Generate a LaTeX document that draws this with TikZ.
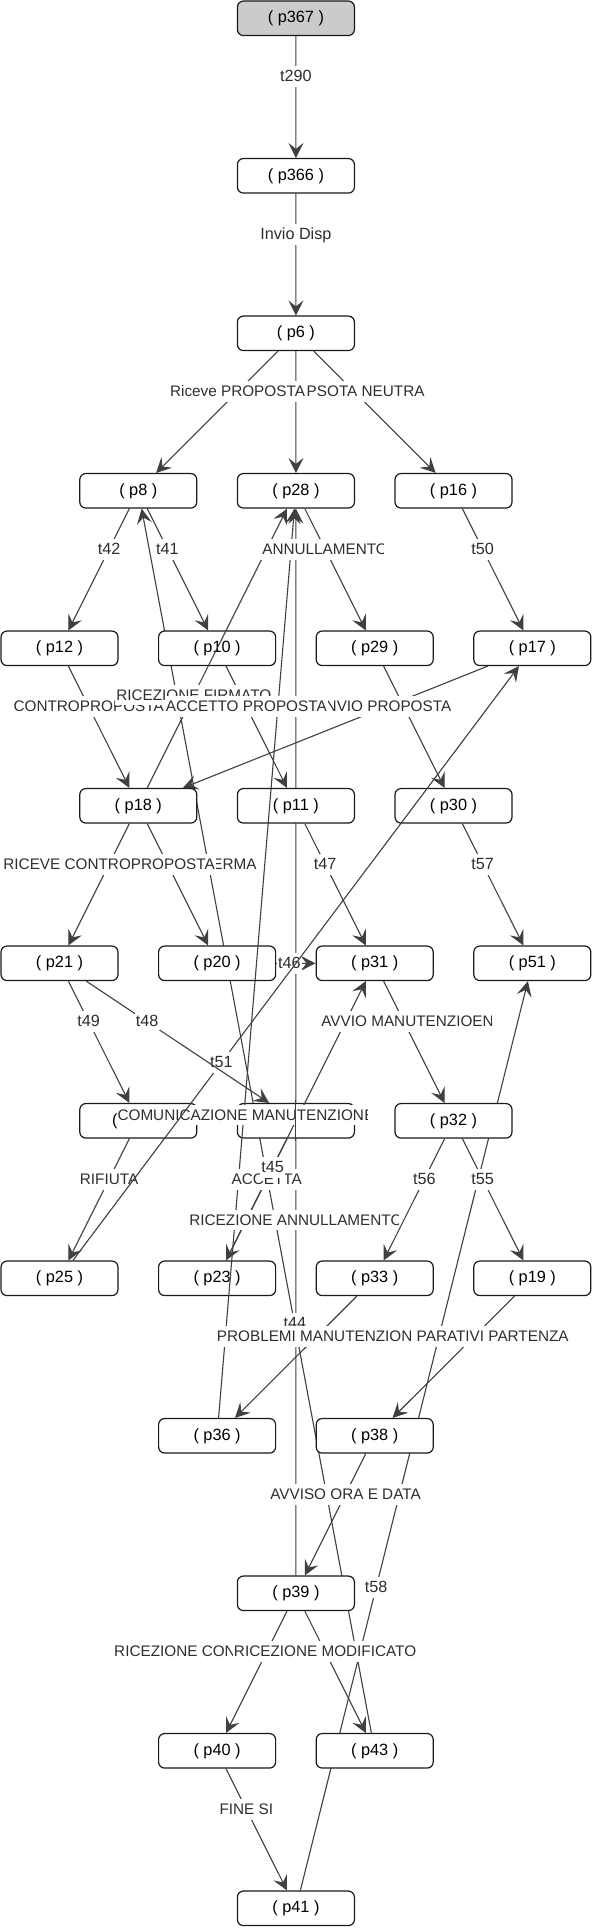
\documentclass[tikz,border=0pt]{standalone}
\usepackage{fontspec}
\setmainfont{Liberation Sans}
\usetikzlibrary{calc,arrows.meta}
\pgfdeclarelayer{bg}
\pgfdeclarelayer{mid}
\pgfdeclarelayer{lab}
\pgfdeclarelayer{top}
\pgfsetlayers{bg,main,mid,lab,top}
\definecolor{edgecol}{HTML}{404040}
\definecolor{labcol}{HTML}{2E2E2E}
\definecolor{boxcol}{HTML}{1A1A1A}
\definecolor{grayfill}{HTML}{CBCBCB}
\tikzset{
  place/.style={draw=boxcol, line width=1.2pt, rounded corners=6pt, fill=white,
    minimum width=117pt, minimum height=34.5pt, inner sep=0pt,
    font=\fontsize{16.3}{16.3}\selectfont, text=black},
  ptext/.style={inner sep=0pt, font=\fontsize{16.3}{16.3}\selectfont, text=black},
  tlab/.style={fill=white, inner xsep=1pt, inner ysep=2pt, text height=13.6pt,
    text depth=3.2pt, font=\fontsize{15.3}{15.3}\selectfont, text=labcol},
  tlabd/.style={tlab, font=\fontsize{16.2}{16.2}\selectfont},
  ln/.style={draw=edgecol, line width=1.1pt},
  lnarr/.style={ln, -{Stealth[length=15pt, width=15pt, inset=6pt]}},
}
\newcommand\mktpt[4]{\coordinate (#1) at ($(#2)!#4!(#3)$);}
\begin{document}
\begin{tikzpicture}[x=1pt,y=-1pt]
\useasboundingbox (0,0) rectangle (593,1928);
% ---------- places ----------
\node[place, fill=grayfill] (p367) at (295.9,18.3) {( p367 )};
\node[place] (p366) at (295.9,175.8) {( p366 )};
\node[place] (p6)   at (295.9,333.3) {( p6 )};
\node[place] (p8)   at (138.3,490.8) {( p8 )};
\node[place] (p28)  at (295.9,490.8) {( p28 )};
\node[place] (p16)  at (453.5,490.8) {( p16 )};
\node[place] (p12)  at (59.5,648.3)  {( p12 )};
\node[place] (p10)  at (217.1,648.3) {( p10 )};
\node[place] (p29)  at (374.7,648.3) {( p29 )};
\node[place] (p17)  at (532.3,648.3) {( p17 )};
\node[place] (p18)  at (138.3,805.8) {( p18 )};
\node[place] (p11)  at (295.9,805.8) {( p11 )};
\node[place] (p30)  at (453.5,805.8) {( p30 )};
\node[place] (p21)  at (59.5,963.3)  {( p21 )};
\node[place] (p20)  at (217.1,963.3) {( p20 )};
\node[place] (p31)  at (374.7,963.3) {( p31 )};
\node[place] (p51)  at (532.3,963.3) {( p51 )};
\node[place] (pA)   at (138.3,1120.8) {};
\node[place] (pB)   at (295.9,1120.8) {};
\node[place] (p32)  at (453.5,1120.8) {( p32 )};
\node[place] (p25)  at (59.5,1278.3)  {( p25 )};
\node[place] (p23)  at (217.1,1278.3) {( p23 )};
\node[place] (p33)  at (374.7,1278.3) {( p33 )};
\node[place] (p19)  at (532.3,1278.3) {( p19 )};
\node[place] (p36)  at (217.1,1435.8) {( p36 )};
\node[place] (p38)  at (374.7,1435.8) {( p38 )};
\node[place] (p39)  at (295.9,1593.3) {( p39 )};
\node[place] (p40)  at (217.1,1750.8) {( p40 )};
\node[place] (p43)  at (374.7,1750.8) {( p43 )};
\node[place] (p41)  at (295.9,1908.3) {( p41 )};
% ---------- transition points ----------
\mktpt{T1}{p367}{p366}{0.3704}
\mktpt{T2}{p366}{p6}{0.3704}
\mktpt{T3}{p6}{p8}{0.3704}
\mktpt{T4}{p6}{p28}{0.3704}
\mktpt{T5}{p6}{p16}{0.3704}
\mktpt{T6}{p8}{p12}{0.3704}
\mktpt{T7}{p8}{p10}{0.3704}
\mktpt{T8}{p28}{p29}{0.3704}
\mktpt{T9}{p16}{p17}{0.3704}
\mktpt{T10}{p12}{p18}{0.3704}
\mktpt{T11}{p10}{p11}{0.3704}
\mktpt{T12}{p29}{p30}{0.3704}
\mktpt{T13}{p17}{p18}{0.3704}
\mktpt{T14}{p18}{p28}{0.3519}
\mktpt{T15}{p18}{p21}{0.3704}
\mktpt{T16}{p18}{p20}{0.3704}
\mktpt{T17}{p11}{p31}{0.3704}
\mktpt{T18}{p30}{p51}{0.3704}
\mktpt{T19}{p20}{p31}{0.4585}
\mktpt{T20}{p21}{pA}{0.3704}
\mktpt{T21}{p21}{pB}{0.3704}
\mktpt{T22}{p31}{p32}{0.3704}
\mktpt{T23}{p25}{p17}{0.3426}
\mktpt{T24}{p36}{p28}{0.3395}
\mktpt{T25}{pA}{p25}{0.3704}
\mktpt{T26}{pB}{p23}{0.3704}
\mktpt{T27}{p32}{p33}{0.3704}
\mktpt{T28}{p32}{p19}{0.3704}
\mktpt{T29}{p23}{p31}{0.3519}
\mktpt{T30}{p39}{p28}{0.3386}
\mktpt{T31}{p33}{p36}{0.3704}
\mktpt{T32}{p19}{p38}{0.3704}
\mktpt{T33}{p43}{p8}{0.3380}
\mktpt{T34}{p38}{p39}{0.3704}
\mktpt{T35}{p41}{p51}{0.3395}
\mktpt{T36}{p39}{p40}{0.3704}
\mktpt{T37}{p39}{p43}{0.3704}
\mktpt{T38}{p40}{p41}{0.3704}
% ---------- labels ----------
\begin{pgfonlayer}{lab}
\node[tlabd] (l1) at (T1) {t290};
\node[tlabd] (l2) at (T2) {Invio Disp};
\node[tlab, anchor=east] (l5) at ($(T5)+(71.5,0)$) {PSOTA NEUTRA};
\node[tlab] (l3) at (T3) {Riceve PROPOSTA};
\node[tlabd] (l6) at (T6) {t42};
\node[tlabd] (l7) at (T7) {t41};
\begin{scope}
\clip ($(T8)+(-70,-15)$) rectangle ($(T8)+(58.1,15)$);
\node[tlab] (l8) at (T8) {ANNULLAMENTO};
\end{scope}
\node[tlabd] (l9) at (T9) {t50};
\node[tlab] (l10) at (T10) {CONTROPROPOSTA};
\node[tlab] (l13) at (T13) {INVIO PROPOSTA};
\node[tlab] (l14) at (T14) {RICEZIONE FIRMATO};
\node[tlab] (l11) at (T11) {ACCETTO PROPOSTA};
\node[tlab, anchor=east] (l16) at ($(T16)+(90.3,0)$) {ERMA};
\node[tlab] (l15) at (T15) {RICEVE CONTROPROPOSTA};
\node[tlabd] (l17) at (T17) {t47};
\node[tlabd] (l18) at (T18) {t57};
\node[tlabd] (l19) at (T19) {t46};
\node[tlabd] (l20) at (T20) {t49};
\node[tlabd] (l21) at (T21) {t48};
\begin{scope}
\clip ($(T22)+(-90,-15)$) rectangle ($(T22)+(87.6,15)$);
\node[tlab, anchor=west] (l22) at ($(T22)+(-83.7,0)$) {AVVIO MANUTENZIOENE};
\end{scope}
\node[tlabd] (l23) at (T23) {t51};
\node[tlab, anchor=west] (l24) at ($(T24)+(-127.5,0)$) {COMUNICAZIONE MANUTENZION};
\begin{scope}
\clip ($(l24.north east)+(-1,0)$) rectangle ($(l24.south east)+(2.6,0)$);
\node[tlab, anchor=base west, inner xsep=0pt] (l24e) at ($(l24.base east)+(-1,0)$) {E};
\end{scope}
\node[ptext] (pAt) at ($(pA)+(-23.4,0)$) {(};
\node[tlab] (l25) at (T25) {RIFIUTA};
\node[tlab] (l26) at (T26) {ACCETTA};
\node[tlabd] (l29) at (T29) {t45};
\node[tlabd] (l27) at (T27) {t56};
\node[tlabd] (l28) at (T28) {t55};
\begin{scope}
\clip ($(T30)+(-110,-15)$) rectangle ($(T30)+(102.1,15)$);
\node[tlab] (l30) at (T30) {RICEZIONE ANNULLAMENTO};
\end{scope}
\node[tlabd] (l33) at ($(T33)+(0,-1.2)$) {t44};
\node[tlab, anchor=west] (l31) at ($(T31)+(-100.6,0)$) {PROBLEMI MANUTENZION};
\begin{scope}
\clip ($(T32)+(-60,-15)$) rectangle ($(T32)+(94.3,15)$);
\node[tlab, anchor=west] (l32) at ($(T32)+(-58.4,0)$) {PARATIVI PARTENZA};
\end{scope}
\node[tlab] (l34) at (T34) {AVVISO ORA E DATA};
\node[tlabd] (l35) at (T35) {t58};
\node[tlab, anchor=west] (l36) at ($(T36)+(-153.7,0)$) {RICEZIONE CON};
\node[tlab] (l37) at (T37) {RICEZIONE MODIFICATO};
\node[tlab] (l38) at (T38) {FINE SI};
\end{pgfonlayer}
% ---------- edges below places ----------
\begin{pgfonlayer}{bg}
\fill[white] (0,0) rectangle (593,1928);
\draw[lnarr] (p367) -- (T1) -- (p366);
\draw[lnarr] (p366) -- (T2) -- (p6);
\draw[lnarr] (p6) -- (T3) -- (p8);
\draw[lnarr] (p6) -- (T4) -- (p28);
\draw[lnarr] (p6) -- (T5) -- (p16);
\draw[lnarr] (p8) -- (T6) -- (p12);
\draw[lnarr] (p8) -- (T7) -- (p10);
\draw[lnarr] (p28) -- (T8) -- (p29);
\draw[lnarr] (p16) -- (T9) -- (p17);
\draw[lnarr] (p12) -- (T10) -- (p18);
\draw[lnarr] (p10) -- (T11) -- (p11);
\draw[lnarr] (p29) -- (T12) -- (p30);
\draw[lnarr] (p17) -- (T13) -- (p18);
\draw[lnarr] (p18) -- (T15) -- (p21);
\draw[lnarr] (p18) -- (T16) -- (p20);
\draw[lnarr] (p11) -- (T17) -- (p31);
\draw[lnarr] (p30) -- (T18) -- (p51);
\draw[ln] (p20) -- (l19);
\draw[lnarr] (l19) -- (p31);
\draw[lnarr] (p21) -- (T20) -- (pA);
\draw[ln] (p21) -- (T21);
\draw[lnarr] (p31) -- (T22) -- (p32);
\draw[lnarr] (pA) -- (T25) -- (p25);
\draw[lnarr] (p32) -- (T27) -- (p33);
\draw[lnarr] (p32) -- (T28) -- (p19);
\draw[lnarr] (p39) -- (T30) -- (p28);
\draw[lnarr] (p33) -- (T31) -- (p36);
\draw[lnarr] (p19) -- (T32) -- (p38);
\draw[lnarr] (p43) -- (T33) -- (p8);
\draw[lnarr] (p38) -- (T34) -- (p39);
\draw[lnarr] (p41) -- (T35) -- (p51);
\draw[lnarr] (p39) -- (T36) -- (p40);
\draw[lnarr] (p39) -- (T37) -- (p43);
\draw[lnarr] (p40) -- (T38) -- (p41);
\end{pgfonlayer}
% ---------- edges over places ----------
\begin{pgfonlayer}{mid}
\draw[lnarr] (p18) -- (T14) -- (p28);
\draw[lnarr] (p36) -- (T24) -- (p28);
\draw[lnarr] (pB) -- (T26) -- (p23);
\draw[lnarr] (p23) -- (T29) -- (p31);
\end{pgfonlayer}
% ---------- edges over labels ----------
\begin{pgfonlayer}{top}
\draw[ln] (p25) -- (l23);
\draw[lnarr] (l23) -- (p17);
\draw[lnarr] (l21) -- (pB);
\coordinate (va) at ($(T30)!0.108!(p28)$);
\coordinate (vb) at ($(T30)!0.1646!(p28)$);
\draw[ln] (va) -- (vb);
\end{pgfonlayer}
\end{tikzpicture}
\end{document}
